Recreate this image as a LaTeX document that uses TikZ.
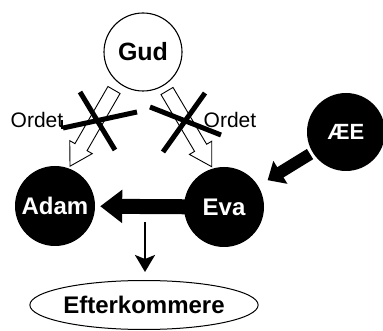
\documentclass[tikz,border=0pt]{standalone}
\usepackage{fontspec}
\setmainfont{Liberation Sans}
\usetikzlibrary{shapes.geometric,arrows.meta}
\tikzset{
  whitecirc/.style={circle,draw=black,line width=1.1pt,fill=white,minimum size=78pt,inner sep=0pt,font=\fontsize{25}{25}\selectfont\bfseries},
  blackcirc/.style={circle,fill=black,text=white,minimum size=80pt,inner sep=0pt,font=\fontsize{24}{24}\selectfont\bfseries},
  ovalnode/.style={ellipse,draw=black,line width=1pt,minimum width=212pt,minimum height=49pt,inner sep=0pt,font=\fontsize{24}{24}\selectfont\bfseries},
  lbl/.style={font=\fontsize{21}{21}\selectfont,inner sep=0pt},
  hollow/.style={draw=black,line width=0.9pt,fill=white,line join=miter},
  xstroke/.style={line width=5pt},
  bigarrow/.style={line width=15pt,-{Triangle[length=22pt,width=32pt]}},
  midarrow/.style={line width=12pt,-{Triangle[length=15pt,width=26pt]}},
  thinarrow/.style={line width=2.5pt,-{Stealth[length=17pt,width=20pt,inset=4pt]}}
}
\newcommand\hollowarr[3]{%
  \begin{scope}[shift={(#1)},rotate=#2]
    \draw[hollow] (0,7) -- ({#3-22},7) -- ({#3-22},13) -- (#3,0) -- ({#3-22},-13) -- ({#3-22},-7) -- (0,-7) -- cycle;
  \end{scope}}
\begin{document}
\begin{tikzpicture}[x=1pt,y=-1pt]
\useasboundingbox (0,0) rectangle (383,331);
% nodes
\node[whitecirc] (gud) at (143,52) {Gud};
\node[blackcirc] (adam) at (55,206) {Adam};
\node[blackcirc] (eva) at (224,207) {Eva};
\node[blackcirc,minimum size=78pt,font=\fontsize{22}{22}\selectfont\bfseries] (aee) at (346,132) {ÆE};
\node[ovalnode] (eft) at (144,305) {Efterkommere};
\node[lbl] (ordl) at (37,120) {Ordet};
\node[lbl] (ordr) at (230,120) {Ordet};
% hollow arrows (the word) from Gud
\coordinate (la) at (114,90);
\coordinate (ra) at (167,91);
\hollowarr{la}{-120}{88}
\hollowarr{ra}{-59.4}{88}
% crosses
\draw[xstroke] (80,92) -- (115,150);
\draw[xstroke] (63,128) -- (137,112);
\draw[line width=2.5pt] (62,120) -- (62,129);
\draw[xstroke] (150,107) -- (221,135);
\draw[xstroke] (163,152) -- (205,93);
% connectors
\draw[bigarrow,shorten <=-4pt,shorten >=5pt] (eva) -- (adam);
\draw[midarrow,shorten <=3pt,shorten >=11pt] (aee) -- (eva);
\coordinate (dstart) at (145,222);
\draw[thinarrow,shorten >=8pt] (dstart) -- (dstart |- eft.north);
\end{tikzpicture}
\end{document}
